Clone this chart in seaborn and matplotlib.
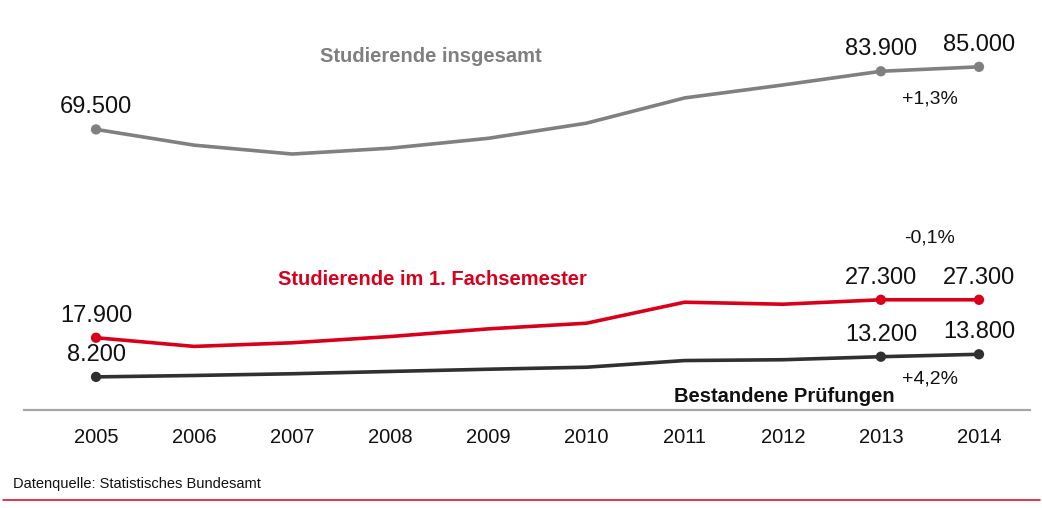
import numpy as np
import pandas as pd
import matplotlib
matplotlib.use("Agg")
import matplotlib.pyplot as plt
import seaborn as sns
from matplotlib.lines import Line2D

# Daten
jahre = [2005, 2006, 2007, 2008, 2009, 2010, 2011, 2012, 2013, 2014]
insgesamt = [69500, 65600, 63400, 64850, 67300, 71050, 77300, 80500, 83900, 85000]
fachsemester = [17900, 15750, 16650, 18200, 20100, 21500, 26700, 26200, 27300, 27300]
pruefungen = [8200, 8550, 8980, 9550, 10100, 10600, 12250, 12450, 13200, 13800]

beschriftet = [2005, 2013, 2014]   # Punkte mit Marker und Wert
veraenderung = ["+1,3%", "-0,1%", "+4,2%"]

namen = ["Studierende insgesamt", "Studierende im 1. Fachsemester", "Bestandene Prüfungen"]
farben = ["#808080", "#d9001b", "#303030"]

df = pd.DataFrame({
    "Jahr": jahre * 3,
    "Wert": insgesamt + fachsemester + pruefungen,
    "Reihe": [namen[0]] * 10 + [namen[1]] * 10 + [namen[2]] * 10,
})

sns.set_theme(style="white")
plt.rcParams["font.family"] = ["Liberation Sans", "DejaVu Sans"]

fig = plt.figure(figsize=(10.42, 5.08), dpi=100)
ax = fig.add_axes([24 / 1042, (508 - 410) / 508, (1030 - 24) / 1042, (410 - 20) / 508])

palette = dict(zip(namen, farben))
sns.lineplot(data=df, x="Jahr", y="Wert", hue="Reihe", palette=palette,
             linewidth=2.6, legend=False, ax=ax)
punkte = df[df["Jahr"].isin(beschriftet)]
sns.scatterplot(data=punkte, x="Jahr", y="Wert", hue="Reihe", palette=palette,
                s=55, edgecolor="none", legend=False, ax=ax, zorder=3)

# Werte über den Punkten
for _, r in punkte.iterrows():
    ax.annotate(f"{int(r['Wert']):,}".replace(",", "."), (r["Jahr"], r["Wert"]),
                xytext=(0, 11.5), textcoords="offset points",
                ha="center", va="baseline", fontsize=17, color="#111111")

# Veränderung 2013 -> 2014
offsets = [-24.5, 41.5, -20]
for reihe, text, dy in zip([insgesamt, fachsemester, pruefungen], veraenderung, offsets):
    xm = (jahre[-2] + jahre[-1]) / 2
    ym = (reihe[-2] + reihe[-1]) / 2
    ax.annotate(text, (xm, ym), xytext=(0, dy), textcoords="offset points",
                ha="center", va="baseline", fontsize=14, color="#111111")

# Reihennamen
ax.text(2008.41, 86250, namen[0], ha="center", va="baseline", fontsize=14.5,
        fontweight="bold", color="#7f7f7f")
ax.text(2008.43, 30880, namen[1], ha="center", va="baseline", fontsize=14.5,
        fontweight="bold", color="#d9001b")
ax.text(2012.02, 1930, namen[2], ha="center", va="baseline", fontsize=14.5,
        fontweight="bold", color="#111111")

ax.set_xlim(2004.266, 2014.52)
ax.set_ylim(0, 96600)
ax.set_xticks(jahre)
ax.set_xticklabels([str(j) for j in jahre], fontsize=14.5, color="#111111")
ax.set_yticks([])
ax.set_xlabel("")
ax.set_ylabel("")
ax.tick_params(axis="x", length=0, pad=13)
for s in ["top", "left", "right"]:
    ax.spines[s].set_visible(False)
ax.spines["bottom"].set_color("#a6a6a6")
ax.spines["bottom"].set_linewidth(1.6)

fig.text(13 / 1042, 1 - 488 / 508, "Datenquelle: Statistisches Bundesamt",
         ha="left", va="baseline", fontsize=10.5, color="#111111")
fig.add_artist(Line2D([3 / 1042, 1040 / 1042], [1 - 500 / 508] * 2,
                      color="#d9001b", linewidth=1.1))

fig.savefig("out.png", dpi=100)
